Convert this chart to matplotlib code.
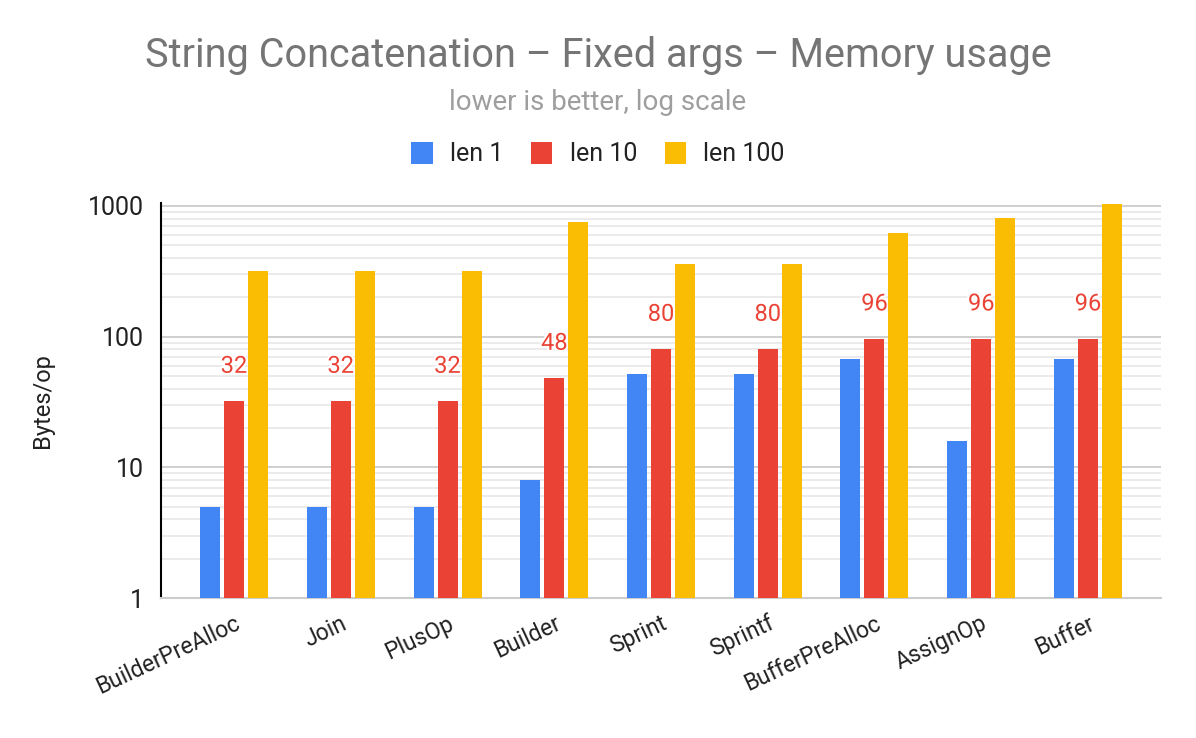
import matplotlib
matplotlib.use("Agg")
import matplotlib.pyplot as plt
import matplotlib.patheffects as pe
from matplotlib.patches import Patch
from matplotlib.ticker import LogLocator, NullFormatter, FixedLocator
import numpy as np

categories = ["BuilderPreAlloc", "Join", "PlusOp", "Builder", "Sprint",
              "Sprintf", "BufferPreAlloc", "AssignOp", "Buffer"]
len1 = [5, 5, 5, 8, 52, 52, 68, 16, 68]
len10 = [32, 32, 32, 48, 80, 80, 96, 96, 96]
len100 = [316, 316, 316, 760, 362, 362, 616, 812, 1036]
series_names = ["len 1", "len 10", "len 100"]
y_ticks = [1, 10, 100, 1000]
y_tick_labels = ["1", "10", "100", "1000"]

colors = ["#4285F4", "#EA4335", "#FBBC04"]
FONT = "Roboto"
plt.rcParams["font.family"] = [FONT, "DejaVu Sans"]

fig = plt.figure(figsize=(11.96, 7.38), dpi=100)
ax = fig.add_axes([161 / 1196, 1 - 598 / 738, 1000 / 1196, (598 - 203) / 738])

x = np.arange(len(categories))
step = 24 / 106.75
width = 20 / 106.75
all_series = [len1, len10, len100]
for i, (vals, c) in enumerate(zip(all_series, colors)):
    ax.bar(x + (i - 1) * step, vals, width=width, color=c, zorder=3)

# data labels for len 10 (drawn behind the yellow bars)
for xi, v in zip(x, len10):
    ax.annotate(str(v), xy=(xi, v), xytext=(0, 35), textcoords="offset pixels",
                ha="center", va="center", fontsize=17, color="#EA4335",
                zorder=2.5,
                path_effects=[pe.withStroke(linewidth=3, foreground="white")])

ax.set_yscale("log")
ax.set_ylim(1, 1054)
ax.set_xlim(-0.684, len(categories) - 1 + 0.684)

ax.yaxis.set_major_locator(FixedLocator(y_ticks))
ax.set_yticklabels(y_tick_labels)
ax.yaxis.set_minor_locator(LogLocator(base=10, subs=np.arange(2, 10)))
ax.yaxis.set_minor_formatter(NullFormatter())
ax.grid(True, which="major", axis="y", color="#cccccc", linewidth=1.3, zorder=0)
ax.grid(True, which="minor", axis="y", color="#e5e5e5", linewidth=1.1, zorder=0)
ax.set_axisbelow(True)

ax.tick_params(axis="both", which="both", length=0)
ax.tick_params(axis="y", labelsize=18, pad=12, labelcolor="#222222")
ax.set_xticks(x)
ax.set_xticklabels(categories, rotation=25, ha="right", rotation_mode="anchor",
                   fontsize=16.5, color="#222222")
ax.tick_params(axis="x", pad=10)

for s in ["top", "right"]:
    ax.spines[s].set_visible(False)
ax.spines["left"].set_color("#000000")
ax.spines["left"].set_linewidth(1.5)
ax.spines["bottom"].set_color("#cccccc")
ax.spines["bottom"].set_linewidth(1.5)

ax.set_ylabel("Bytes/op", fontsize=17, color="#222222")
ax.yaxis.set_label_coords(-107 / 1000, 0.5)

fig.text(0.5, 1 - 67 / 738, "String Concatenation – Fixed args – Memory usage",
         ha="center", va="baseline", fontsize=28.5, color="#757575")
fig.text(0.5, 1 - 103 / 738, "lower is better, log scale",
         ha="center", va="center", fontsize=20, color="#9e9e9e")

handles = [Patch(facecolor=c, edgecolor="none") for c in colors]
fig.legend(handles, series_names, loc="center", bbox_to_anchor=(0.5, 1 - 154 / 738),
           ncol=3, frameon=False, fontsize=18, handlelength=0.85, handleheight=1.0,
           handletextpad=0.7, columnspacing=1.1, labelcolor="#222222")

fig.savefig("out.png", dpi=100)
